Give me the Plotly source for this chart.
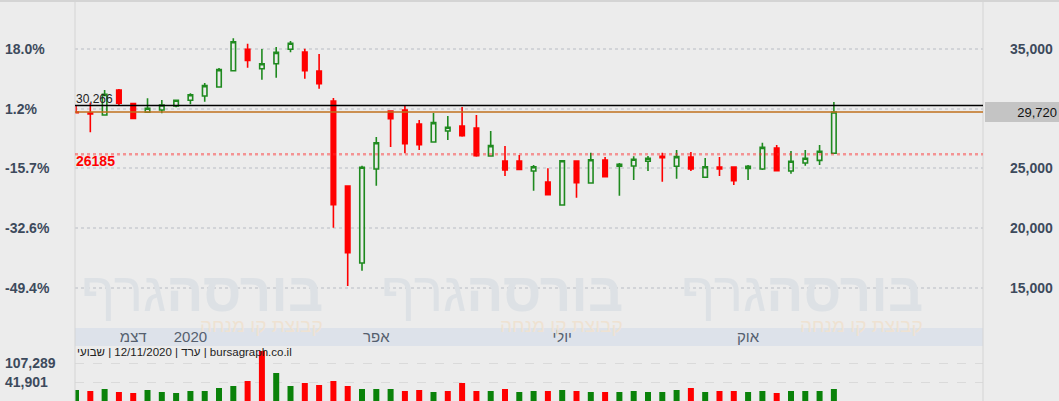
import plotly.graph_objects as go
import pandas as pd

# ---- weekly candles (Nov 2019 - Nov 2020) ----
WEEK_DATES = pd.date_range("2019-11-07", periods=54, freq="7D")

OPEN = [29720, 29640, 29470, 31565, 30420, 29700, 29890, 30220, 30700, 31060,
        31820, 33180, 34980, 33350, 33770, 34980, 34750, 33160, 30640, 23520,
        17070, 24950, 29800, 29890, 28720, 27210, 28130, 28550, 28380, 26030,
        25620, 25620, 24780, 23860, 21930, 25620, 23770, 25700, 25170, 25200,
        25590, 26010, 25170, 25950, 24250, 25110, 25110, 25000, 24950, 26710,
        24780, 25450, 25670, 26260]
HIGH = [30266, 30480, 31565, 31650, 30430, 30870, 30730, 30730, 31290, 32150,
        33410, 35900, 35440, 35000, 35170, 35670, 35030, 34580, 30890, 23520,
        25220, 27630, 29800, 30310, 29050, 29640, 29390, 30140, 29470, 28130,
        26870, 26120, 25280, 25000, 25660, 25620, 26310, 25950, 25450, 26010,
        26030, 26310, 26540, 26370, 25870, 25950, 25110, 25280, 27150, 26960,
        26450, 26540, 26960, 30560]
LOW = [29650, 28020, 29470, 30220, 29180, 29690, 29610, 30110, 30370, 30580,
       31770, 33180, 33430, 32430, 32600, 34720, 32510, 31670, 20030, 15140,
       16420, 23550, 26790, 26260, 26540, 27210, 27380, 27650, 25980, 26030,
       24360, 24880, 23130, 22790, 21930, 22540, 23770, 24300, 22710, 24020,
       24780, 23880, 24130, 24780, 24250, 24360, 23600, 24020, 24860, 24800,
       24550, 25220, 25280, 26260]
CLOSE = [29660, 29560, 31200, 30450, 29190, 30030, 30310, 30700, 31170, 31930,
         33270, 35610, 34050, 33770, 34720, 35480, 33180, 32090, 21950, 17930,
         25090, 27150, 29160, 27070, 26980, 28830, 28440, 27740, 26060, 26900,
         24860, 24900, 25140, 22790, 25640, 23800, 25720, 24300, 25340, 25760,
         25840, 25890, 25980, 24950, 25140, 24950, 23970, 25170, 26760, 24800,
         25590, 25840, 26430, 29720]
VOLUME = [15400, 11960, 18850, 8520, 5080, 15400, 8520, 5080, 11960, 11960,
          22290, 29170, 46370, 149600, 73900, 29170, 39490, 32610, 46370, 29170,
          18850, 18850, 18850, 11960, 15400, 8520, 11960, 39490, 11960, 11960,
          18850, 8520, 11960, 11960, 15400, 11960, 8520, 8520, 8520, 11960,
          8520, 8520, 15400, 22290, 8520, 11960, 11960, 8520, 11960, 5080,
          11960, 11960, 11960, 18850]

PRICE_TICKS = [15000, 20000, 25000, 30000, 35000]
PCT_LABELS = ["-49.4%", "-32.6%", "-15.7%", "1.2%", "18.0%"]
VOL_TICKS = [41901, 107289]

TICK_DATES = ["2019-12-05", "2020-01-02", "2020-04-02", "2020-07-02", "2020-10-01"]
TICK_TEXT = ["דצמ", "2020", "אפר", "יולי", "אוק"]

HIGH_LEVEL = 30266
LAST_LEVEL = 29720
SUPPORT_LEVEL = 26185
INFO_TEXT = "שבועי\u200e | 12/11/2020 | ערד\u200e | bursagraph.co.il"

# ---- axis geometry ----
PRICE_RANGE = [11623, 39022]
VOL_RANGE = [-22446, 166809]
X_RANGE = ["2019-11-06 12:00", "2021-01-24"]

BG = "#ececec"
AXIS_TXT = "#3d4a5c"
GREEN = "#1f8a1f"
RED = "#ff0000"
FONT = "Liberation Sans, Arial, sans-serif"

fig = go.Figure()

fig.add_trace(go.Candlestick(
    x=WEEK_DATES, open=OPEN, high=HIGH, low=LOW, close=CLOSE,
    increasing=dict(line=dict(color=GREEN, width=1.6), fillcolor="rgba(0,0,0,0)"),
    decreasing=dict(line=dict(color=RED, width=1.6), fillcolor=RED),
    xaxis="x", yaxis="y", showlegend=False, hoverinfo="skip",
))

# volume colour: close vs previous close
vol_colors = []
for i, c in enumerate(CLOSE):
    up = i == 0 or c >= CLOSE[i - 1]
    vol_colors.append("#0a820a" if up else RED)

fig.add_trace(go.Bar(
    x=WEEK_DATES, y=[v - VOL_RANGE[0] for v in VOLUME], base=VOL_RANGE[0],
    marker=dict(color=vol_colors, line=dict(width=0)),
    xaxis="x2", yaxis="y2", showlegend=False, hoverinfo="skip",
))

# empty trace so the percent axis is drawn
fig.add_trace(go.Scatter(x=[], y=[], xaxis="x", yaxis="y3", showlegend=False))

tick_font = dict(family=FONT, size=14, color=AXIS_TXT, weight="bold")

fig.update_layout(
    width=1059, height=401,
    margin=dict(l=75, r=76, t=1, b=0),
    paper_bgcolor=BG, plot_bgcolor=BG,
    font=dict(family=FONT),
    showlegend=False,
    boxgap=0.55, boxgroupgap=0.3,
    bargap=0.58,
    xaxis=dict(
        domain=[0, 1], anchor="y", type="date", range=X_RANGE,
        tickvals=TICK_DATES, ticktext=TICK_TEXT,
        tickfont=dict(family=FONT, size=15, color="#555f6e"),
        ticklabelstandoff=-2,
        showgrid=False, zeroline=False, showline=False, ticks="",
        rangeslider=dict(visible=False),
    ),
    xaxis2=dict(
        domain=[0, 1], anchor="y2", matches="x", type="date",
        showticklabels=False, showgrid=False, zeroline=False, ticks="",
    ),
    yaxis=dict(
        domain=[0.1825, 1], anchor="x", side="right", range=PRICE_RANGE,
        tickvals=PRICE_TICKS, tickformat=",d", tickfont=tick_font,
        ticklabelstandoff=26,
        showgrid=True, gridcolor="#d2d4d8", griddash="dot", gridwidth=1.5,
        zeroline=False, showline=False, ticks="",
    ),
    yaxis3=dict(
        overlaying="y", anchor="x", side="left", range=PRICE_RANGE,
        tickvals=PRICE_TICKS, ticktext=PCT_LABELS, tickfont=tick_font,
        ticklabelposition="inside", ticklabelstandoff=-73,
        showgrid=False, zeroline=False, showline=False, ticks="",
    ),
    yaxis2=dict(
        domain=[0, 0.1375], anchor="x2", side="left", range=VOL_RANGE,
        tickvals=VOL_TICKS, tickformat=",d", tickfont=tick_font,
        ticklabelposition="inside", ticklabelstandoff=-73,
        showgrid=True, gridcolor="#dadada", griddash="dash", gridwidth=1,
        zeroline=False, showline=False, ticks="",
    ),
)

# date band between price and volume panels
fig.add_shape(type="rect", xref="paper", yref="paper", x0=0, x1=1,
              y0=0.1375, y1=0.1825, fillcolor="#dde2ea", line=dict(width=0),
              layer="below")
# frame lines
for xv in (0, 1):
    fig.add_shape(type="line", xref="paper", yref="paper", x0=xv, x1=xv,
                  y0=0, y1=1, line=dict(color="#d4d4d4", width=1))
fig.add_shape(type="line", xref="paper", yref="paper", x0=-0.083, x1=1.084,
              y0=1, y1=1, line=dict(color="#d4d4d4", width=2))

# level lines
fig.add_shape(type="line", xref="paper", yref="y", x0=0, x1=1,
              y0=HIGH_LEVEL, y1=HIGH_LEVEL, line=dict(color="#000000", width=1.5))
fig.add_shape(type="line", xref="paper", yref="y", x0=0, x1=1,
              y0=LAST_LEVEL, y1=LAST_LEVEL, line=dict(color="#c0701e", width=1.5))
fig.add_shape(type="line", xref="paper", yref="y", x0=0, x1=1,
              y0=SUPPORT_LEVEL, y1=SUPPORT_LEVEL,
              line=dict(color="rgba(255,40,40,0.45)", width=2.5, dash="dot"))

# watermarks
for rx in (0.2753, 0.6057, 0.9361):
    fig.add_annotation(xref="paper", yref="paper", x=rx, y=0.272,
                       xanchor="right", yanchor="middle", showarrow=False,
                       text="<b>בורסה</b>גרף",
                       font=dict(family=FONT, size=55, color="#dde1e5"))
    fig.add_annotation(xref="paper", yref="paper", x=rx, y=0.19,
                       xanchor="right", yanchor="middle", showarrow=False,
                       text="קבוצת קו מנחה",
                       font=dict(family=FONT, size=19, color="#efe2d2"))

fig.add_annotation(xref="paper", yref="y", x=0, y=HIGH_LEVEL, xanchor="left",
                   yanchor="bottom", showarrow=False, text=f"{HIGH_LEVEL:,}",
                   font=dict(family=FONT, size=12, color="#222222"), xshift=-1,
                   yshift=-2)
fig.add_annotation(xref="paper", yref="y", x=0, y=SUPPORT_LEVEL, xanchor="left",
                   yanchor="middle", showarrow=False, text=str(SUPPORT_LEVEL),
                   font=dict(family=FONT, size=14, color=RED, weight="bold"),
                   xshift=-1, yshift=-7)
fig.add_annotation(xref="paper", yref="y", x=1, y=LAST_LEVEL, xanchor="left",
                   yanchor="middle", showarrow=False, text=f"{LAST_LEVEL:,}",
                   font=dict(family=FONT, size=13, color="#111111"),
                   bgcolor="#c4c4c4", width=70, height=16, borderpad=1,
                   borderwidth=1, bordercolor="#c4c4c4", align="right", xshift=2)
fig.add_annotation(xref="paper", yref="paper", x=0, y=0.1225, xanchor="left",
                   yanchor="middle", showarrow=False, text=INFO_TEXT,
                   font=dict(family=FONT, size=11.5, color="#222222"))

fig.write_html("out.html", config={"displayModeBar": False},
               post_script="document.body.style.margin='0';")
